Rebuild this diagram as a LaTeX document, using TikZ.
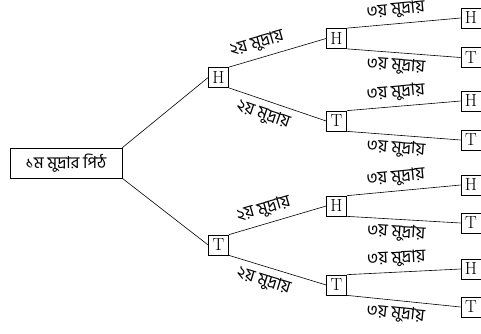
\documentclass[tikz,border=0pt]{standalone}
\usepackage{fontspec}
\newfontfamily\bn[Script=Bengali]{Hind Siliguri}
\begin{document}
\begin{tikzpicture}[x=1pt,y=-1pt,
  coin/.style={draw, line width=0.7pt, minimum width=20pt, minimum height=20pt,
    inner sep=0pt, font=\fontsize{17.5}{20}\selectfont},
  rootbox/.style={draw, line width=0.7pt, minimum width=112pt, minimum height=30pt,
    inner sep=0pt, font=\bn\fontsize{16.5}{19}\selectfont},
  branch/.style={line width=0.6pt},
  lbl/.style={sloped, inner sep=0pt, font=\bn\fontsize{17}{19}\selectfont}
]
\useasboundingbox (0,0) rectangle (481,333);

% first coin
\node[rootbox] (root) at (66,163) {১ম মুদ্রার পিঠ};

% second coin
\node[coin] (h) at (218.5,77.5) {H};
\node[coin] (t) at (218.5,245) {T};

% third coin
\node[coin] (hh) at (336.5,38.5) {H};
\node[coin] (ht) at (336.5,121) {T};
\node[coin] (th) at (336.5,206) {H};
\node[coin] (tt) at (336.5,285) {T};

% outcomes
\node[coin] (hhh) at (471,18) {H};
\node[coin] (hht) at (471,57.5) {T};
\node[coin] (hth) at (471,101) {H};
\node[coin] (htt) at (471,140) {T};
\node[coin] (thh) at (471,185) {H};
\node[coin] (tht) at (471,223) {T};
\node[coin] (tth) at (471,269) {H};
\node[coin] (ttt) at (471,307) {T};

% branches from the first coin
\draw[branch] (root.north east) -- (h.west);
\draw[branch] (root.south east) -- (t.west);

% branches for the second coin
\draw[branch] (h.north east) -- node[lbl, pos=0.33, above=6pt] {২য় মুদ্রায়} (hh.west);
\draw[branch] (h.south east) -- node[lbl, pos=0.4, below=6pt] {২য় মুদ্রায়} (ht.west);
\draw[branch] (t.north east) -- node[lbl, pos=0.4, above=6pt] {২য় মুদ্রায়} (th.west);
\draw[branch] (t.south east) -- node[lbl, pos=0.4, below=6pt] {২য় মুদ্রায়} (tt.west);

% branches for the third coin
\foreach \p/\a/\b in {hh/hhh/hht, ht/hth/htt, th/thh/tht, tt/tth/ttt}{
  \draw[branch] (\p.north east) -- node[lbl, pos=0.44, above=5pt] {৩য় মুদ্রায়} (\a.west);
  \draw[branch] (\p.south east) -- node[lbl, pos=0.44, below=5pt] {৩য় মুদ্রায়} (\b.west);
}
\end{tikzpicture}
\end{document}
